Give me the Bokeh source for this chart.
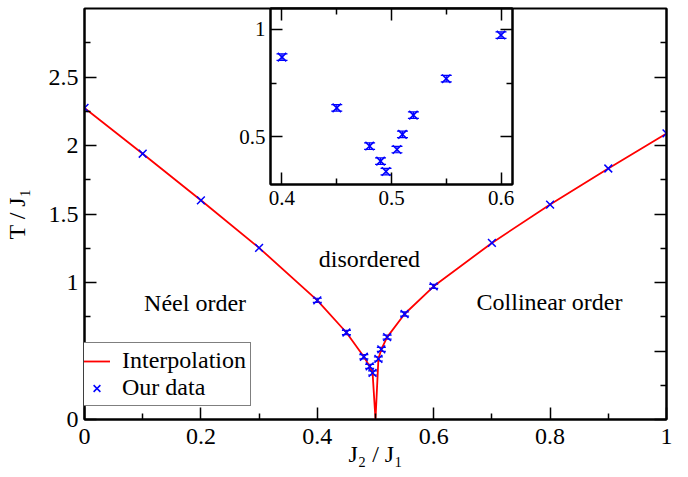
from bokeh.plotting import figure
from bokeh.layouts import column
from bokeh.models import (Range1d, FixedTicker, LinearAxis, Legend, LegendItem,
                          Whisker, TeeHead, ColumnDataSource, CustomLabelingPolicy)
from bokeh.core.properties import value
from bokeh.embed import file_html
from bokeh.resources import INLINE

# ---------------- data ----------------
j2 = [0.0, 0.1, 0.2, 0.3, 0.4, 0.45, 0.48, 0.49, 0.495,
      0.505, 0.51, 0.52, 0.55, 0.6, 0.7, 0.8, 0.9, 1.0]
tc = [2.274, 1.94, 1.60, 1.253, 0.87, 0.635, 0.458, 0.388, 0.34,
      0.442, 0.512, 0.601, 0.77, 0.972, 1.289, 1.569, 1.832, 2.088]
tc_err = [0.0, 0.0, 0.0, 0.0, 0.015, 0.015, 0.015, 0.015, 0.015,
          0.015, 0.015, 0.015, 0.015, 0.015, 0.0, 0.0, 0.0, 0.0]
crit_j2 = 0.5
crit_t = 0.0

x_major = [0, 0.2, 0.4, 0.6, 0.8, 1]
x_minor = [0.1, 0.3, 0.5, 0.7, 0.9]
x_labels = {0: "0", 0.2: "0.2", 0.4: "0.4", 0.6: "0.6", 0.8: "0.8", 1: "1"}
y_major = [0, 0.5, 1, 1.5, 2, 2.5]
y_minor = [0.25, 0.75, 1.25, 1.75, 2.25, 2.75]
y_labels = {0: "0", 0.5: "", 1: "1", 1.5: "1.5", 2: "2", 2.5: "2.5"}

ix_major = [0.4, 0.5, 0.6]
ix_minor = [0.45, 0.55]
ix_labels = {0.4: "0.4", 0.5: "0.5", 0.6: "0.6"}
iy_major = [0.5, 1]
iy_minor = [0.75]
iy_labels = {0.5: "0.5", 1: "1"}

phase_x = [0.19, 0.4895, 0.799]
phase_y = [0.849, 1.168, 0.858]
phase_text = ["Néel order", "disordered", "Collinear order"]

FONT = "Liberation Serif"

# interpolation line: data points plus the critical point
split = j2.index(0.495) + 1
line_x = j2[:split] + [crit_j2] + j2[split:]
line_y = tc[:split] + [crit_t] + tc[split:]

src = ColumnDataSource(dict(x=j2, y=tc))
err_idx = [i for i, e in enumerate(tc_err) if e > 0]
esrc = ColumnDataSource(dict(x=[j2[i] for i in err_idx],
                             upper=[tc[i] + tc_err[i] for i in err_idx],
                             lower=[tc[i] - tc_err[i] for i in err_idx]))
ins_idx = [i for i, v in enumerate(j2) if 0.4 <= v <= 0.6]
isrc = ColumnDataSource(dict(x=[j2[i] for i in ins_idx], y=[tc[i] for i in ins_idx],
                             upper=[tc[i] + tc_err[i] for i in ins_idx],
                             lower=[tc[i] - tc_err[i] for i in ins_idx]))


def style_axis(ax, major, minor, labels, fsize, show_labels=True):
    ax.ticker = FixedTicker(ticks=major, minor_ticks=minor)
    ax.major_tick_in = 12
    ax.major_tick_out = 0
    ax.minor_tick_in = 6
    ax.minor_tick_out = 0
    ax.major_tick_line_width = 1.5
    ax.minor_tick_line_width = 1.5
    ax.major_tick_line_color = "black"
    ax.minor_tick_line_color = "black"
    ax.axis_line_width = 2
    ax.axis_line_color = "black"
    ax.major_label_text_font = FONT
    ax.major_label_text_color = "black"
    if show_labels:
        ax.major_label_overrides = labels
        ax.major_label_text_font_size = fsize
    else:
        ax.major_label_policy = CustomLabelingPolicy(code="return []")
        ax.major_label_text_font_size = "1px"
        ax.major_label_standoff = 0


def error_bars(fig, source, cap):
    fig.add_layout(Whisker(source=source, base="x", upper="upper", lower="lower",
                           line_color="#0000ff", line_width=1.2,
                           upper_head=TeeHead(size=cap, line_color="#0000ff", line_width=1.2),
                           lower_head=TeeHead(size=cap, line_color="#0000ff", line_width=1.2)))


# ---------------- main figure ----------------
W, H = 680, 477
p = figure(width=W, height=H, x_range=Range1d(0, 1), y_range=Range1d(0, 3),
           output_backend="svg", toolbar_location=None,
           min_border_left=78, min_border_right=14, min_border_top=8,
           min_border_bottom=58)
p.xgrid.visible = False
p.ygrid.visible = False
p.outline_line_color = "black"
p.outline_line_width = 2
p.background_fill_color = "white"

style_axis(p.xaxis[0], x_major, x_minor, x_labels, "24px")
p.xaxis[0].major_label_standoff = 9
p.xaxis[0].axis_label = "J₂ / J₁"
p.xaxis[0].axis_label_text_font = FONT
p.xaxis[0].axis_label_text_font_size = "24px"
p.xaxis[0].axis_label_text_font_style = "normal"
p.xaxis[0].axis_label_text_color = "black"
p.xaxis[0].axis_label_standoff = -6

style_axis(p.yaxis[0], y_major, y_minor, y_labels, "24px")
p.yaxis[0].major_label_standoff = 6
p.yaxis[0].axis_label = "T / J₁"
p.yaxis[0].axis_label_text_font = FONT
p.yaxis[0].axis_label_text_font_size = "24px"
p.yaxis[0].axis_label_text_font_style = "normal"
p.yaxis[0].axis_label_text_color = "black"
p.yaxis[0].axis_label_standoff = 16

ry = LinearAxis()
style_axis(ry, y_major, y_minor, y_labels, "24px", show_labels=False)
p.add_layout(ry, "right")

line_r = p.line(line_x, line_y, line_color="#ff0000", line_width=1.8)
pts_r = p.scatter("x", "y", source=src, marker="x", size=11,
                  line_color="#0000ff", line_width=1.5)
error_bars(p, esrc, 9)

p.text(x=phase_x, y=phase_y, text=phase_text, text_font=value(FONT),
       text_font_size="24px", text_align="center", text_baseline="alphabetic",
       text_color="black")

legend = Legend(items=[LegendItem(label="Interpolation", renderers=[line_r]),
                       LegendItem(label="Our data", renderers=[pts_r])],
                location=(-6, 13), padding=4, spacing=0, margin=0,
                glyph_width=27, glyph_height=24, label_height=24,
                label_standoff=12, label_text_font=FONT,
                label_text_font_size="24px", label_text_color="black",
                border_line_color="black", border_line_width=1.5,
                background_fill_color="white", background_fill_alpha=1.0)
p.add_layout(legend, "center")

# ---------------- inset ----------------
iW, iH = 340, 214
ins = figure(width=iW, height=iH, x_range=Range1d(0.3895, 0.6105),
             y_range=Range1d(0.28, 1.095), output_backend="svg",
             toolbar_location=None, min_border_left=40, min_border_right=6,
             min_border_top=8, min_border_bottom=30)
ins.xgrid.visible = False
ins.ygrid.visible = False
ins.outline_line_color = "black"
ins.outline_line_width = 2
ins.background_fill_color = "white"
ins.border_fill_alpha = 0.0
style_axis(ins.xaxis[0], ix_major, ix_minor, ix_labels, "21px")
ins.xaxis[0].major_label_standoff = 6
style_axis(ins.yaxis[0], iy_major, iy_minor, iy_labels, "21px")
ins.yaxis[0].major_label_standoff = 5
tx = LinearAxis()
style_axis(tx, ix_major, ix_minor, ix_labels, "21px", show_labels=False)
ins.add_layout(tx, "above")
ty = LinearAxis()
style_axis(ty, iy_major, iy_minor, iy_labels, "21px", show_labels=False)
ins.add_layout(ty, "right")

ins.scatter("x", "y", source=isrc, marker="x", size=12,
            line_color="#0000ff", line_width=1.6)
error_bars(ins, isrc, 11)

ins.margin = (-H, 0, 0, 186)
layout = column(p, ins, spacing=0)

open("out.html", "w").write(file_html(layout, INLINE))
